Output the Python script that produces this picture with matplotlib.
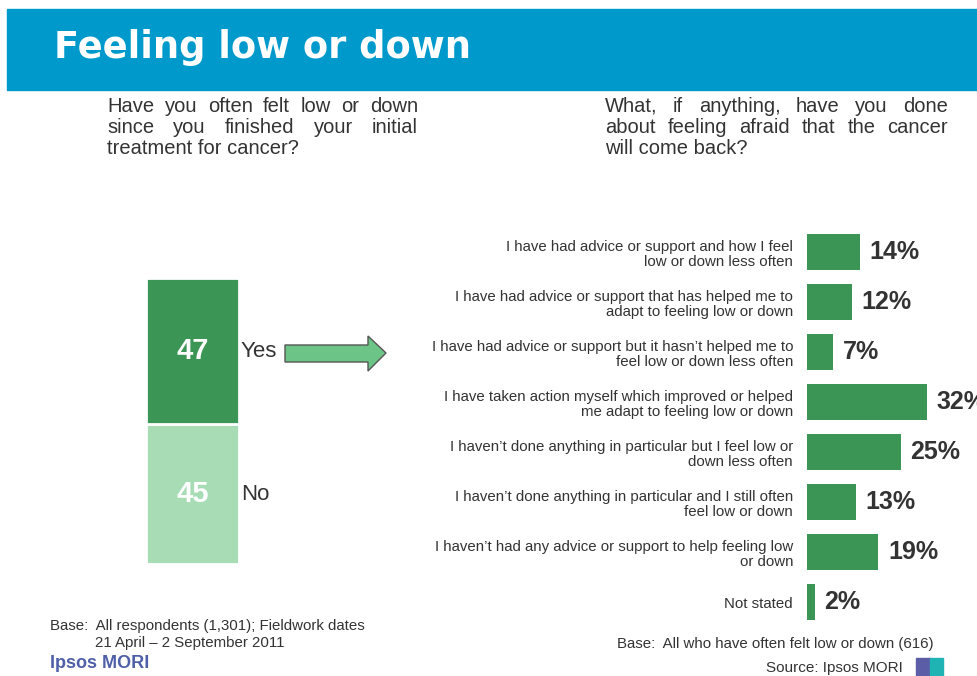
import matplotlib
matplotlib.use("Agg")
import matplotlib.pyplot as plt
from matplotlib.patches import Rectangle, Polygon

plt.rcParams["font.family"] = ["Liberation Sans", "DejaVu Sans"]

W, H = 977, 676
TEXT = "#333333"
DARK_GREEN = "#3b9555"
LIGHT_GREEN = "#a8dcb5"
ARROW_GREEN = "#6cc486"
HEADER_BLUE = "#0099cc"

# left question: stacked share
answers = ["No", "Yes"]
answer_values = [45, 47]
answer_colors = [LIGHT_GREEN, DARK_GREEN]

# right question: actions taken
actions = [
    "I have had advice or support and how I feel\nlow or down less often",
    "I have had advice or support that has helped me to\nadapt to feeling low or down",
    "I have had advice or support but it hasn\u2019t helped me to\nfeel low or down less often",
    "I have taken action myself which improved or helped\nme adapt to feeling low or down",
    "I haven\u2019t done anything in particular but I feel low or\ndown less often",
    "I haven\u2019t done anything in particular and I still often\nfeel low or down",
    "I haven\u2019t had any advice or support to help feeling low\nor down",
    "Not stated",
]
action_values = [14, 12, 7, 32, 25, 13, 19, 2]

left_question = ["Have you often felt low or down",
                 "since you finished your initial",
                 "treatment for cancer?"]
right_question = ["What, if anything, have you done",
                  "about feeling afraid that the cancer",
                  "will come back?"]


def fx(px):
    return px / W


def fy(py):
    return 1 - py / H


def axes_px(fig, x0, y0, x1, y1):
    return fig.add_axes([fx(x0), fy(y1), (x1 - x0) / W, (y1 - y0) / H])


def justified(fig, lines, x0, x1, y0, dy, size):
    # y0 is the baseline of the first line, in pixels from the top
    renderer = fig.canvas.get_renderer()
    for n, line in enumerate(lines):
        y = fy(y0 + n * dy)
        words = line.split()
        if n == len(lines) - 1 or len(words) == 1:
            fig.text(fx(x0), y, line, fontsize=size, color=TEXT, va="baseline")
            continue
        texts = [fig.text(0, y, w, fontsize=size, color=TEXT, va="baseline") for w in words]
        widths = [t.get_window_extent(renderer).width for t in texts]
        gap = (x1 - x0 - sum(widths)) / (len(words) - 1)
        x = x0
        for t, w in zip(texts, widths):
            t.set_x(fx(x))
            x += w + gap


fig = plt.figure(figsize=(W / 100, H / 100), dpi=100)

# header band
fig.patches.append(Rectangle((fx(7), fy(90)), fx(W - 7), (90 - 9) / H,
                             transform=fig.transFigure, color=HEADER_BLUE, zorder=0))
fig.text(fx(54), fy(47), "Feeling low or down", color="white", fontsize=26.5,
         fontweight="bold", family="DejaVu Sans", va="center")

justified(fig, left_question, 107, 418, 112, 21, 14.5)
justified(fig, right_question, 605, 948, 112, 21, 14.5)

# left stacked bar
axl = axes_px(fig, 146, 278, 239, 564)
bottom = 0
for name, val, col in zip(answers, answer_values, answer_colors):
    axl.bar(0, val, width=1, bottom=bottom, color=col, edgecolor="white", linewidth=2)
    axl.text(0, bottom + val / 2, str(val), color="white", fontsize=21,
             fontweight="bold", ha="center", va="center")
    axl.text(0.52, bottom + val / 2, name, color=TEXT, fontsize=16, ha="left", va="center")
    bottom += val
axl.set_xlim(-0.5, 0.5)
axl.set_ylim(0, sum(answer_values))
axl.axis("off")

# arrow
arrow_px = [(285, 345), (368, 345), (368, 336), (386, 353), (368, 371), (368, 362), (285, 362)]
fig.patches.append(Polygon([(fx(x), fy(y)) for x, y in arrow_px], closed=True,
                           transform=fig.transFigure, facecolor=ARROW_GREEN,
                           edgecolor="#555555", linewidth=1))

# right bar chart
axr = axes_px(fig, 807, 227, 977, 627)
ypos = list(range(len(actions)))
axr.barh(ypos, action_values, height=0.72, color=DARK_GREEN)
for y, v in zip(ypos, action_values):
    axr.annotate(f"{v}%", (v, y), xytext=(7, 0), textcoords="offset points",
                 fontsize=18, fontweight="bold", color=TEXT, va="center",
                 annotation_clip=False)
axr.set_xlim(0, 170 / 3.75)
axr.set_ylim(len(actions) - 0.5, -0.5)
axr.set_yticks(ypos)
axr.set_yticklabels(actions, fontsize=10.8, color=TEXT, linespacing=1.15)
axr.tick_params(axis="y", length=0, pad=10)
axr.set_xticks([])
for s in axr.spines.values():
    s.set_visible(False)
axr.patch.set_visible(False)

# footers
fig.text(fx(50), fy(626), "Base:  All respondents (1,301); Fieldwork dates",
         fontsize=10.8, color=TEXT, va="center")
fig.text(fx(95), fy(643), "21 April \u2013 2 September 2011", fontsize=10.8,
         color=TEXT, va="center")
fig.text(fx(50), fy(663), "Ipsos MORI", fontsize=13, fontweight="bold",
         color="#4f5fa8", va="center")
fig.text(fx(617), fy(644), "Base:  All who have often felt low or down (616)",
         fontsize=10.8, color=TEXT, va="center")
fig.text(fx(766), fy(668), "Source: Ipsos MORI", fontsize=11, color=TEXT, va="center")
fig.patches.append(Rectangle((fx(916), fy(676)), 14 / W, 18 / H,
                             transform=fig.transFigure, color="#5b5ea6"))
fig.patches.append(Rectangle((fx(930), fy(676)), 13 / W, 18 / H,
                             transform=fig.transFigure, color="#1fb3b3"))

fig.savefig("out.png", dpi=100)
